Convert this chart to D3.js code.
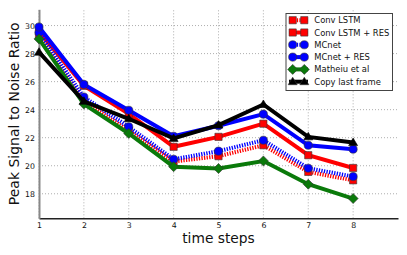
<!DOCTYPE html>
<html><head><meta charset="utf-8">
<script src="https://cdn.jsdelivr.net/npm/d3@7"></script>
<style>body{margin:0;background:#fff}svg{display:block;font-family:"DejaVu Sans",sans-serif}</style>
</head><body><svg id="c" width="407" height="255"></svg>
<script>
const steps = [1,2,3,4,5,6,7,8];
const convLSTM    = [29.3, 24.6, 22.5, 20.3, 20.68, 21.46, 19.56, 18.96];
const convLSTMRes = [29.6, 25.7, 23.7, 21.35, 22.06, 23.0, 20.75, 19.84];
const mcnet       = [29.5, 24.9, 22.77, 20.46, 21.04, 21.82, 19.82, 19.23];
const mcnetRes    = [29.9, 25.8, 23.96, 22.1, 22.85, 23.68, 21.46, 21.18];
const mathieu     = [29.05, 24.4, 22.3, 19.93, 19.8, 20.34, 18.68, 17.66];
const copyLast    = [28.1, 24.6, 23.35, 21.95, 22.9, 24.37, 22.06, 21.65];
const seriesNames = ["Conv LSTM","Conv LSTM + RES","MCnet","MCnet + RES","Matheiu et al","Copy last frame"];
const xTicks = [1,2,3,4,5,6,7,8];
const yTicks = [18,20,22,24,26,28,30];

const series = [
  {name:seriesNames[0], values:convLSTM, color:"#ff0000", dash:"1.3,1.3", marker:"square"},
  {name:seriesNames[1], values:convLSTMRes, color:"#ff0000", dash:null, marker:"square"},
  {name:seriesNames[2], values:mcnet, color:"#0000ff", dash:"1.3,1.3", marker:"circle"},
  {name:seriesNames[3], values:mcnetRes, color:"#0000ff", dash:null, marker:"circle"},
  {name:seriesNames[4], values:mathieu, color:"#0a7a0a", dash:null, marker:"diamond"},
  {name:seriesNames[5], values:copyLast, color:"#000000", dash:null, marker:"triangle"}
];

const svg = d3.select("#c");
const x = d3.scaleLinear().domain([1,9]).range([39,398]);
const y = d3.scaleLinear().domain([16.25,31.16]).range([218.3,9.3]);

// grid
const g = svg.append("g");
g.selectAll(".vg").data(xTicks).join("line")
  .attr("x1",d=>x(d)).attr("x2",d=>x(d)).attr("y1",y.range()[0]).attr("y2",y.range()[1])
  .attr("stroke","#999").attr("stroke-width",0.8).attr("stroke-dasharray","1,2");
g.selectAll(".hg").data(yTicks).join("line")
  .attr("x1",x.range()[0]).attr("x2",x.range()[1]).attr("y1",d=>y(d)).attr("y2",d=>y(d))
  .attr("stroke","#999").attr("stroke-width",0.8).attr("stroke-dasharray","1,2");

// axes
const xAxis = d3.axisBottom(x).tickValues(xTicks).tickSize(0).tickPadding(4);
const xg = svg.append("g").attr("transform",`translate(0,${y.range()[0]})`).call(xAxis);
xg.select(".domain").attr("stroke","#222").attr("stroke-width",1.5);
xg.selectAll("text").attr("font-size",7.8).attr("fill","#111").attr("font-family","DejaVu Sans");
const yAxis = d3.axisLeft(y).tickValues(yTicks).tickSize(0).tickPadding(4);
const yg = svg.append("g").attr("transform",`translate(${x.range()[0]},0)`).call(yAxis);
yg.select(".domain").attr("stroke","#888").attr("stroke-width",2);
yg.selectAll("text").attr("font-size",7.8).attr("fill","#111").attr("font-family","DejaVu Sans");

svg.append("text").attr("x",218.5).attr("y",243).attr("text-anchor","middle")
  .attr("font-size",13.8).attr("fill","#111").text("time steps");
svg.append("text").attr("transform","translate(19,113.8) rotate(-90)").attr("text-anchor","middle")
  .attr("font-size",14).attr("fill","#111").text("Peak Signal to Noise Ratio");

function markerPath(type){
  if(type==="square") return "M-3.6,-3.6H3.6V3.6H-3.6Z";
  if(type==="circle") return d3.symbol(d3.symbolCircle, 52)();
  if(type==="diamond") return "M0,-5L5,0L0,5L-5,0Z";
  return "M0,-4.5L4.5,3L-4.5,3Z";
}

const line = d3.line().x((d,i)=>x(steps[i])).y(d=>y(d));
series.forEach(s=>{
  const gs = svg.append("g");
  gs.append("path").attr("d",line(s.values)).attr("fill","none")
    .attr("stroke",s.color).attr("stroke-width",4)
    .attr("stroke-dasharray",s.dash).attr("stroke-linejoin","miter");
  gs.selectAll("path.m").data(s.values).join("path").attr("class","m")
    .attr("transform",(d,i)=>`translate(${x(steps[i])},${y(d)})`)
    .attr("d",markerPath(s.marker)).attr("fill",s.color)
    .attr("stroke",s.marker==="triangle"?"#000":"#333").attr("stroke-width",0.6);
});

// legend
const lg = svg.append("g");
lg.append("rect").attr("x",286).attr("y",13.5).attr("width",106.5).attr("height",77)
  .attr("fill","#fff").attr("stroke","#444").attr("stroke-width",1);
series.forEach((s,i)=>{
  const cy = 20.2 + i*12.3;
  lg.append("line").attr("x1",289).attr("x2",308).attr("y1",cy).attr("y2",cy)
    .attr("stroke",s.color).attr("stroke-width",4).attr("stroke-dasharray",s.dash);
  [292.7,304.3].forEach(mx=>{
    lg.append("path").attr("transform",`translate(${mx},${cy})`).attr("d",markerPath(s.marker))
      .attr("fill",s.color).attr("stroke","#333").attr("stroke-width",0.6);
  });
  lg.append("text").attr("x",314.3).attr("y",cy+3).attr("font-size",8.4).attr("fill","#111").text(s.name);
});
</script></body></html>
